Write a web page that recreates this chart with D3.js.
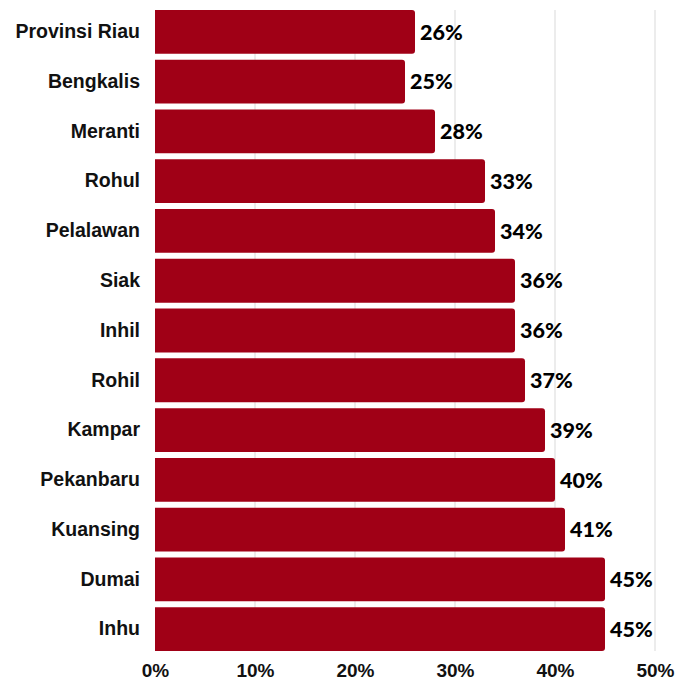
<!DOCTYPE html>
<html>
<head>
<meta charset="utf-8">
<script src="https://cdn.jsdelivr.net/npm/d3@7"></script>
<style>
  body { margin: 0; background: #fff; }
  svg { display: block; }
</style>
</head>
<body>
<svg id="chart" width="689" height="683"></svg>
<script>
// Regions and their percentages
const regions = ["Provinsi Riau", "Bengkalis", "Meranti", "Rohul", "Pelalawan", "Siak", "Inhil", "Rohil", "Kampar", "Pekanbaru", "Kuansing", "Dumai", "Inhu"];
const values = [26, 25, 28, 33, 34, 36, 36, 37, 39, 40, 41, 45, 45];
const tickValues = [0, 10, 20, 30, 40, 50];

const svg = d3.select("#chart");
const margin = { left: 155, right: 34, top: 10, bottom: 32 };
const width = 689, height = 683;

const x = d3.scaleLinear().domain([0, 50]).range([margin.left, width - margin.right]);
const y = d3.scaleBand().domain(regions).range([margin.top, height - margin.bottom]).paddingInner(0.12).paddingOuter(0);

// vertical gridlines
svg.append("g").selectAll("line")
  .data(tickValues.slice(1))
  .join("line")
  .attr("x1", d => x(d)).attr("x2", d => x(d))
  .attr("y1", margin.top).attr("y2", height - margin.bottom)
  .attr("stroke", "#d9d9d9").attr("stroke-width", 1);

// bars with slightly rounded right ends
const r = 3;
svg.append("g").selectAll("path")
  .data(regions.map((name, i) => ({ name, value: values[i] })))
  .join("path")
  .attr("fill", "#a00016")
  .attr("d", d => {
    const x0 = x(0), x1 = x(d.value), y0 = y(d.name), h = y.bandwidth();
    return `M${x0},${y0}H${x1 - r}Q${x1},${y0} ${x1},${y0 + r}V${y0 + h - r}Q${x1},${y0 + h} ${x1 - r},${y0 + h}H${x0}Z`;
  });

// value labels
svg.append("g").selectAll("text")
  .data(regions.map((name, i) => ({ name, value: values[i] })))
  .join("text")
  .attr("x", d => x(d.value) + 5)
  .attr("y", d => y(d.name) + y.bandwidth() / 2)
  .attr("dy", "0.36em")
  .attr("font-family", "Lato, 'Open Sans', sans-serif")
  .attr("font-weight", 900)
  .attr("font-size", 21.5)
  .attr("fill", "#000")
  .text(d => d.value + "%");

// category axis
const yAxis = d3.axisLeft(y).tickSize(0).tickPadding(15);
const gy = svg.append("g").attr("transform", `translate(${margin.left},0)`).call(yAxis);
gy.select(".domain").remove();
gy.selectAll("text")
  .attr("font-family", "'Liberation Sans', Arial, sans-serif")
  .attr("font-weight", "bold")
  .attr("font-size", 19.5)
  .attr("fill", "#111");

// percentage axis
const xAxis = d3.axisBottom(x).tickValues(tickValues).tickFormat(d => d + "%").tickSize(0).tickPadding(13);
const gx = svg.append("g").attr("transform", `translate(0,${height - margin.bottom})`).call(xAxis);
gx.select(".domain").remove();
gx.selectAll("text")
  .attr("font-family", "'Liberation Sans', Arial, sans-serif")
  .attr("font-weight", "bold")
  .attr("font-size", 19)
  .attr("fill", "#111");
</script>
</body>
</html>
